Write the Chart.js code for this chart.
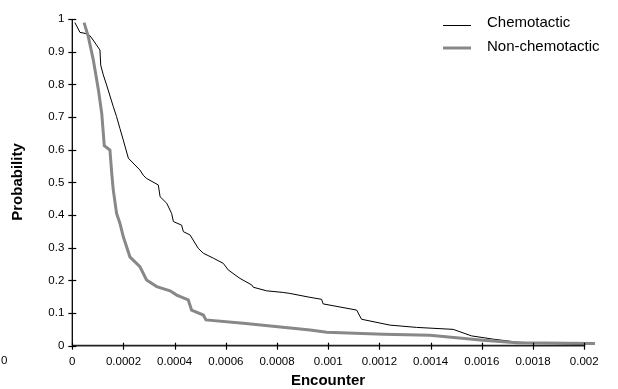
<!DOCTYPE html>
<html>
<head>
<meta charset="utf-8">
<script src="https://cdn.jsdelivr.net/npm/chart.js@4.4.1/dist/chart.umd.min.js"></script>
<style>
  html, body { margin: 0; padding: 0; background: #ffffff; }
  #wrap { width: 618px; height: 389px; }
</style>
</head>
<body>
<div id="wrap"><canvas id="c" width="618" height="389"></canvas></div>
<script>
// ---- data ----
const seriesNames = ["Chemotactic", "Non-chemotactic"];

const chemoX = [0.00001, 0.00003, 0.00005, 0.00007, 0.000095, 0.000108, 0.000111, 0.000121, 0.000134,
  0.00016, 0.000173, 0.000186, 0.000199, 0.000219, 0.000245, 0.000264, 0.000277, 0.00029, 0.000336,
  0.000343, 0.000369, 0.000388, 0.000395, 0.000427, 0.000434, 0.00046, 0.000492, 0.000512, 0.000551,
  0.00059, 0.000609, 0.000655, 0.000701, 0.000707, 0.000759, 0.000824, 0.00085, 0.000929, 0.000974,
  0.00098, 0.001111, 0.00113, 0.001241, 0.001345, 0.001488, 0.00156, 0.001645, 0.001736, 0.001866, 0.001996];
const chemoY = [0.989, 0.959, 0.956, 0.948, 0.92, 0.905, 0.859, 0.829, 0.798,
  0.732, 0.701, 0.665, 0.63, 0.574, 0.553, 0.538, 0.522, 0.512, 0.492,
  0.456, 0.436, 0.405, 0.38, 0.369, 0.349, 0.339, 0.298, 0.283, 0.268,
  0.252, 0.232, 0.206, 0.186, 0.179, 0.168, 0.163, 0.16, 0.148, 0.142,
  0.128, 0.109, 0.081, 0.063, 0.056, 0.05, 0.03, 0.02, 0.011, 0.007, 0.005];

const nonChemoX = [0.000046, 0.0000625, 0.000082, 0.000102, 0.000115, 0.000125, 0.000147, 0.000154,
  0.00016, 0.000173, 0.000186, 0.000199, 0.000225, 0.000264, 0.00029, 0.00033, 0.000382, 0.000408,
  0.000453, 0.000466, 0.000512, 0.000522, 0.000668, 0.000929, 0.000994, 0.001215, 0.001397, 0.001605,
  0.001736, 0.002042];
const nonChemoY = [0.989, 0.946, 0.875, 0.783, 0.711, 0.612, 0.599, 0.528,
  0.477, 0.405, 0.375, 0.334, 0.272, 0.242, 0.201, 0.181, 0.168, 0.155,
  0.14, 0.109, 0.094, 0.079, 0.069, 0.048, 0.041, 0.035, 0.032, 0.017,
  0.009, 0.007];

const xTickValues = [0, 0.0002, 0.0004, 0.0006, 0.0008, 0.001, 0.0012, 0.0014, 0.0016, 0.0018, 0.002];
const xTickLabels = ["0", "0.0002", "0.0004", "0.0006", "0.0008", "0.001", "0.0012", "0.0014", "0.0016", "0.0018", "0.002"];
const yTickValues = [0, 0.1, 0.2, 0.3, 0.4, 0.5, 0.6, 0.7, 0.8, 0.9, 1];
const yTickLabels = ["0", "0.1", "0.2", "0.3", "0.4", "0.5", "0.6", "0.7", "0.8", "0.9", "1"];
const xTitle = "Encounter";
const yTitle = "Probability";

// ---- build ----
const toPts = (xs, ys) => xs.map((x, i) => ({ x: x, y: ys[i] }));
const FONT = "'Liberation Sans', Arial, sans-serif";

const decor = {
  id: 'decor',
  afterDraw(chart) {
    const ctx = chart.ctx;
    const xs = chart.scales.x, ys = chart.scales.y;
    const a = chart.chartArea;
    ctx.save();
    // axes
    ctx.strokeStyle = '#000';
    ctx.lineWidth = 1.3;
    ctx.beginPath();
    ctx.moveTo(a.left, a.top); ctx.lineTo(a.left, a.bottom);
    ctx.stroke();
    ctx.strokeStyle = '#222';
    ctx.lineWidth = 1.8;
    ctx.beginPath();
    ctx.moveTo(a.left, a.bottom); ctx.lineTo(xs.getPixelForValue(0.002) + 1, a.bottom);
    ctx.stroke();
    // tick marks crossing the axes
    ctx.strokeStyle = '#000';
    ctx.lineWidth = 1.2;
    yTickValues.forEach(v => {
      const p = Math.round(ys.getPixelForValue(v)) + 0.5;
      ctx.beginPath(); ctx.moveTo(a.left - 4, p); ctx.lineTo(a.left + 4, p); ctx.stroke();
    });
    xTickValues.forEach(v => {
      const p = Math.round(xs.getPixelForValue(v)) + 0.5;
      ctx.beginPath(); ctx.moveTo(p, a.bottom - 3); ctx.lineTo(p, a.bottom + 4); ctx.stroke();
    });
    // axis titles
    ctx.fillStyle = '#000';
    ctx.font = "bold 15px " + FONT;
    ctx.textAlign = 'center';
    ctx.textBaseline = 'middle';
    ctx.fillText(xTitle, 328, 381);
    ctx.save();
    ctx.translate(18, 182);
    ctx.rotate(-Math.PI / 2);
    ctx.fillText(yTitle, 0, 0);
    ctx.restore();
    // stray label at bottom-left
    ctx.font = "11.5px " + FONT;
    ctx.textAlign = 'left';
    ctx.fillText("0", 1, 361);
    // legend
    ctx.font = "15px " + FONT;
    ctx.textAlign = 'left';
    ctx.textBaseline = 'middle';
    ctx.strokeStyle = '#000'; ctx.lineWidth = 1;
    ctx.beginPath(); ctx.moveTo(443, 25.5); ctx.lineTo(471, 25.5); ctx.stroke();
    ctx.fillText(seriesNames[0], 487, 23);
    ctx.strokeStyle = '#888'; ctx.lineWidth = 3;
    ctx.beginPath(); ctx.moveTo(443, 48); ctx.lineTo(471, 48); ctx.stroke();
    ctx.fillText(seriesNames[1], 487, 47);
    ctx.restore();
  }
};

new Chart(document.getElementById('c'), {
  type: 'scatter',
  data: {
    datasets: [
      { label: seriesNames[0], data: toPts(chemoX, chemoY), showLine: true, borderColor: '#000', borderWidth: 1,
        pointRadius: 0, tension: 0, order: 2 },
      { label: seriesNames[1], data: toPts(nonChemoX, nonChemoY), showLine: true, borderColor: '#888', borderWidth: 3,
        pointRadius: 0, tension: 0, order: 1 }
    ]
  },
  options: {
    responsive: false,
    animation: false,
    devicePixelRatio: 1,
    layout: { padding: { left: 0, top: 19, right: 21, bottom: 0 } },
    plugins: { legend: { display: false }, tooltip: { enabled: false } },
    scales: {
      x: {
        type: 'linear', min: 0, max: 0.00205,
        grid: { display: false, drawTicks: false },
        border: { display: false },
        afterBuildTicks: s => { s.ticks = xTickValues.map(v => ({ value: v })); },
        afterFit: s => { s.height = 43.3; },
        ticks: {
          padding: 9, color: '#000', maxRotation: 0, autoSkip: false,
          font: { family: FONT, size: 11.5 },
          callback: (v, i) => xTickLabels[i]
        }
      },
      y: {
        type: 'linear', min: 0, max: 1,
        grid: { display: false, drawTicks: false },
        border: { display: false },
        afterBuildTicks: s => { s.ticks = yTickValues.map(v => ({ value: v })); },
        afterFit: s => { s.width = 72.3; },
        ticks: {
          padding: 8, color: '#000', autoSkip: false,
          font: { family: FONT, size: 11.5 },
          callback: (v, i) => yTickLabels[i]
        }
      }
    }
  },
  plugins: [decor]
});
</script>
</body>
</html>
